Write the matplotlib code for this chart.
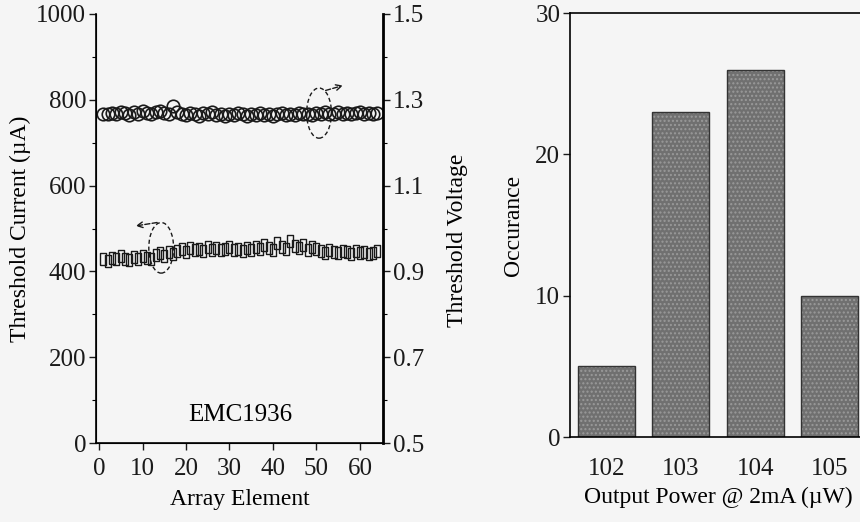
import matplotlib
matplotlib.use("Agg")
import matplotlib.pyplot as plt
from matplotlib.patches import Ellipse
from matplotlib.ticker import MultipleLocator

plt.rcParams['font.family'] = ['Liberation Serif', 'DejaVu Serif']

# threshold current per array element (uA), read off the squares
current = [430, 425, 432, 428, 435, 430, 427, 433,
           429, 436, 431, 428, 438, 442, 436, 445,
           440, 448, 452, 446, 455, 450, 453, 448,
           456, 451, 454, 449, 452, 457, 450, 453,
           448, 455, 451, 458, 452, 462, 455, 450,
           466, 458, 453, 470, 460, 455, 462, 450,
           458, 452, 448, 444, 450, 446, 442, 448,
           445, 440, 447, 443, 446, 441, 444, 448]

# threshold voltage per array element (V), read off the circles
voltage = [1.268, 1.266, 1.270, 1.267, 1.272, 1.269, 1.265, 1.271,
           1.268, 1.273, 1.270, 1.266, 1.272, 1.275, 1.270, 1.268,
           1.285, 1.272, 1.268, 1.265, 1.270, 1.267, 1.263, 1.269,
           1.266, 1.271, 1.264, 1.268, 1.262, 1.267, 1.265, 1.270,
           1.266, 1.263, 1.268, 1.265, 1.269, 1.264, 1.267, 1.262,
           1.266, 1.269, 1.264, 1.268, 1.265, 1.270, 1.266, 1.268,
           1.264, 1.269, 1.267, 1.271, 1.266, 1.268, 1.272, 1.267,
           1.270, 1.266, 1.269, 1.271, 1.268, 1.270, 1.267, 1.269]

elements = list(range(1, len(current) + 1))

power = [102, 103, 104, 105]
occurance = [5, 23, 26, 10]

bg = '#f5f5f5'
ink = '#1a1a1a'
tick_fs = 18
label_fs = 17

fig = plt.figure(figsize=(8.6, 5.22), dpi=100, facecolor=bg)

# ---- left panel: current + voltage vs element
ax = fig.add_axes([0.1116, 0.1513, 0.3337, 0.8219], facecolor=bg)
ax2 = ax.twinx()

# tall rectangle marker like the original squares
rect = [(-0.6, -1), (0.6, -1), (0.6, 1), (-0.6, 1), (-0.6, -1)]
ax.plot(elements, current, ls='none', marker=rect, ms=8, mfc='none',
        mec=ink, mew=1.0)
ax2.plot(elements, voltage, ls='none', marker='o', ms=9, mfc='none',
         mec=ink, mew=1.2)

ax.set_xlim(-0.7, 65.3)
ax.set_ylim(0, 1000)
ax2.set_ylim(0.5, 1.5)
ax.set_xticks([0, 10, 20, 30, 40, 50, 60])
ax.set_yticks([0, 200, 400, 600, 800, 1000])
ax.yaxis.set_minor_locator(MultipleLocator(100))
ax2.set_yticks([0.5, 0.7, 0.9, 1.1, 1.3, 1.5])
ax2.set_yticklabels(['0.5', '0.7', '0.9', '1.1', '1.3', '1.5'])
ax2.yaxis.set_minor_locator(MultipleLocator(0.1))

for a in (ax, ax2):
    a.spines['top'].set_visible(False)
    a.tick_params(labelsize=tick_fs, colors=ink, length=5, width=1, pad=2)
    a.tick_params(which='minor', length=3, width=0.8)
ax.tick_params(axis='x', pad=6)
ax.spines['left'].set_linewidth(1.2)
ax2.spines['right'].set_linewidth(2)
ax.spines['bottom'].set_linewidth(1.2)

ax.set_xlabel('Array Element', fontsize=label_fs, labelpad=6)
ax.set_ylabel('Threshold Current (\u00b5A)', fontsize=label_fs, labelpad=4)
ax2.set_ylabel('Threshold Voltage', fontsize=label_fs)
ax2.yaxis.set_label_coords(1.223, 0.473)

ax.text(32.4, 65, 'EMC1936', fontsize=tick_fs, ha='center', va='center')

# dashed ellipses with arrows pointing at the matching axis
ax.add_patch(Ellipse((14.3, 455), 5.7, 118, fill=False, ls=(0, (3, 2)),
                     lw=1, ec=ink))
ax.annotate('', xy=(7.8, 505), xytext=(14.0, 515),
            arrowprops=dict(arrowstyle='->', ls='--', lw=1, color=ink))
ax2.add_patch(Ellipse((50.6, 1.269), 5.7, 0.117, fill=False, ls=(0, (3, 2)),
                      lw=1, ec=ink))
ax2.annotate('', xy=(56.7, 1.335), xytext=(51.5, 1.32),
             arrowprops=dict(arrowstyle='->', ls='--', lw=1, color=ink))

# ---- right panel: histogram of output power
bx = fig.add_axes([0.6628, 0.1628, 0.345, 0.8122], facecolor=bg)
bx.bar(power, occurance, width=0.77, color='#707070', edgecolor='#9a9a9a',
       hatch='....', linewidth=0)
bx.bar(power, occurance, width=0.77, fill=False, edgecolor='#333333',
       linewidth=1)
bx.set_xlim(101.51, 105.5)
bx.set_ylim(0, 30)
bx.set_yticks([0, 10, 20, 30])
bx.set_xticks(power)
bx.tick_params(axis='y', labelsize=tick_fs, length=5, width=1, colors=ink,
               pad=2)
bx.tick_params(axis='x', labelsize=tick_fs, length=0, pad=15, colors=ink)
bx.spines['right'].set_visible(False)
for s in ('left', 'top', 'bottom'):
    bx.spines[s].set_linewidth(1.2)
bx.set_xlabel('Output Power @ 2mA (\u00b5W)', fontsize=label_fs, labelpad=5)
bx.set_ylabel('Occurance', fontsize=label_fs, labelpad=8)

fig.savefig('out.png', dpi=100, facecolor=bg)
